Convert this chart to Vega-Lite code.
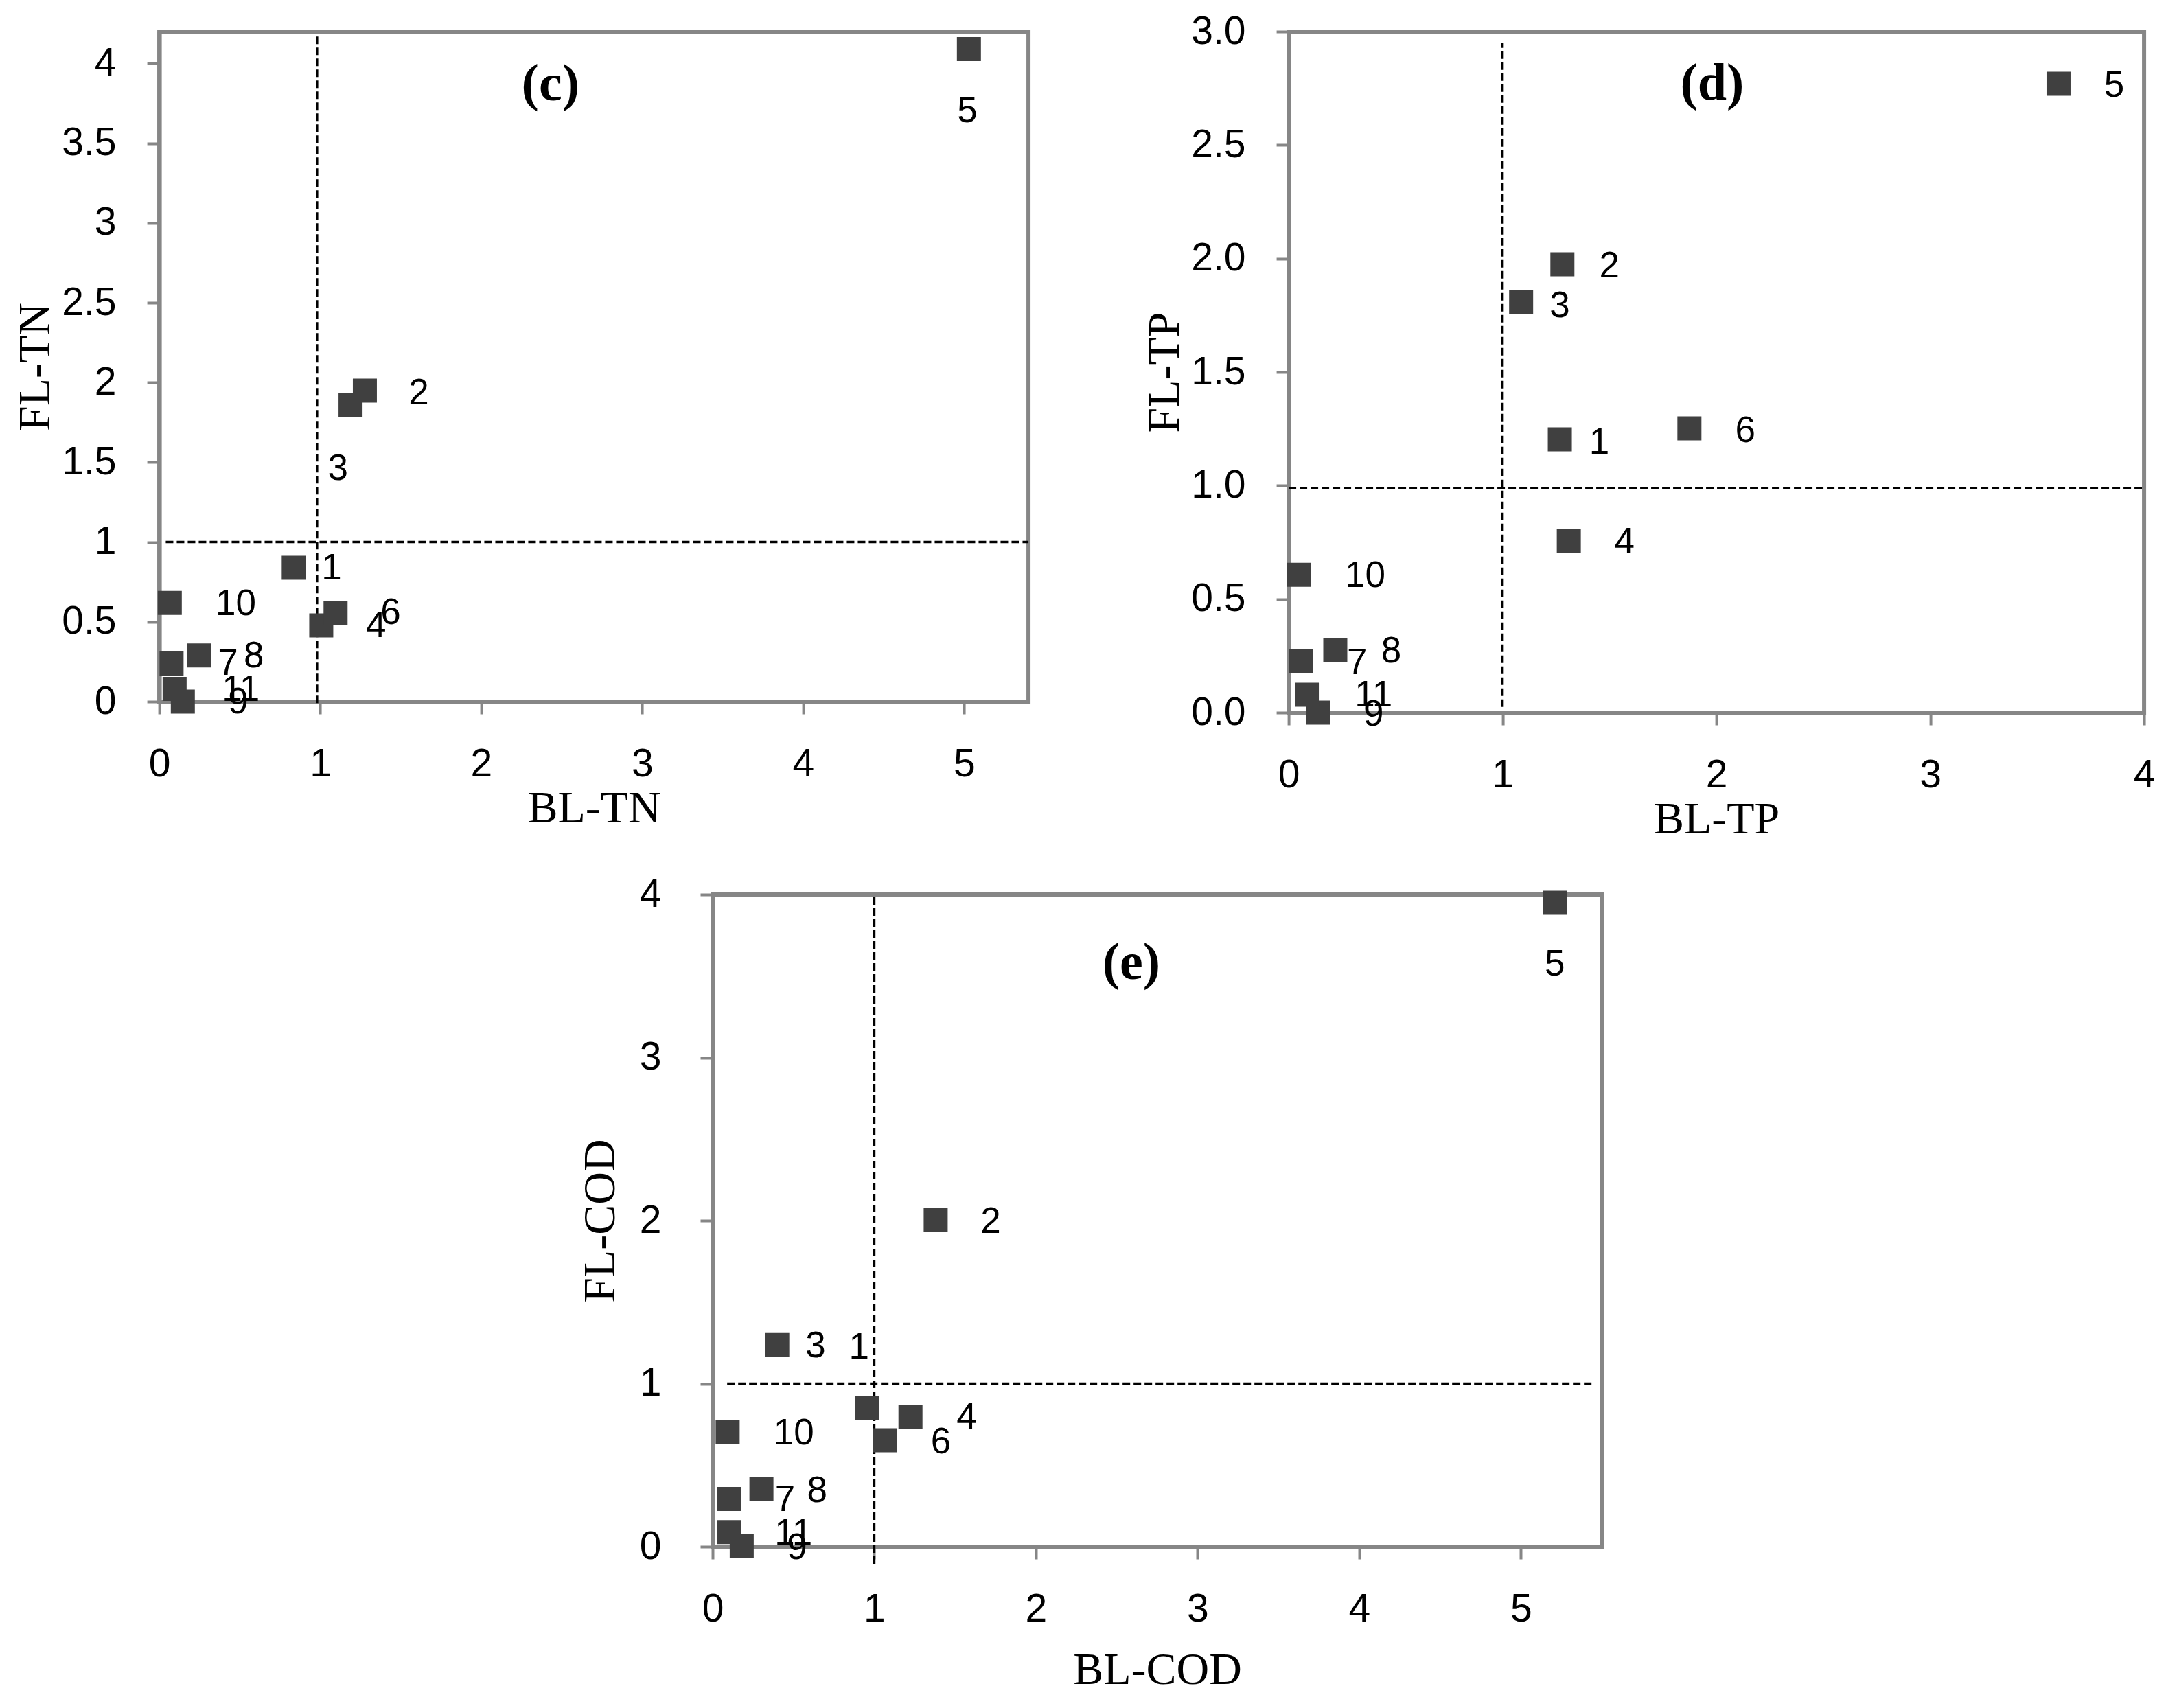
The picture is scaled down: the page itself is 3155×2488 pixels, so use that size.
{
  "$schema": "https://vega.github.io/schema/vega-lite/v6.json",
  "padding": {"left": 15, "top": 14, "right": 5, "bottom": 5},
  "background": "white",
  "datasets": {
    "c": [
      {"id": "1", "x": 0.835, "y": 0.839, "lx": 1.07, "ly": 0.836},
      {"id": "2", "x": 1.277, "y": 1.949, "lx": 1.612, "ly": 1.932},
      {"id": "3", "x": 1.188, "y": 1.858, "lx": 1.11, "ly": 1.46},
      {"id": "4", "x": 1.006, "y": 0.478, "lx": 1.346, "ly": 0.474},
      {"id": "5", "x": 5.03, "y": 4.09, "lx": 5.02, "ly": 3.70},
      {"id": "6", "x": 1.095, "y": 0.557, "lx": 1.437, "ly": 0.553},
      {"id": "7", "x": 0.076, "y": 0.239, "lx": 0.426, "ly": 0.236},
      {"id": "8", "x": 0.247, "y": 0.289, "lx": 0.587, "ly": 0.283},
      {"id": "9", "x": 0.146, "y": 0.0, "lx": 0.49, "ly": -0.004},
      {"id": "10", "x": 0.065, "y": 0.619, "lx": 0.475, "ly": 0.61},
      {"id": "11", "x": 0.095, "y": 0.08, "lx": 0.506, "ly": 0.072}
    ],
    "d": [
      {"id": "1", "x": 1.268, "y": 1.204, "lx": 1.452, "ly": 1.19},
      {"id": "2", "x": 1.28, "y": 1.975, "lx": 1.5, "ly": 1.965},
      {"id": "3", "x": 1.087, "y": 1.807, "lx": 1.268, "ly": 1.79},
      {"id": "4", "x": 1.31, "y": 0.757, "lx": 1.57, "ly": 0.75},
      {"id": "5", "x": 3.6, "y": 2.77, "lx": 3.86, "ly": 2.76},
      {"id": "6", "x": 1.874, "y": 1.252, "lx": 2.135, "ly": 1.24},
      {"id": "7", "x": 0.058, "y": 0.228, "lx": 0.32, "ly": 0.219},
      {"id": "8", "x": 0.218, "y": 0.277, "lx": 0.48, "ly": 0.27},
      {"id": "9", "x": 0.138, "y": 0.0, "lx": 0.397, "ly": -0.01},
      {"id": "10", "x": 0.048, "y": 0.607, "lx": 0.358, "ly": 0.603},
      {"id": "11", "x": 0.085, "y": 0.079, "lx": 0.397, "ly": 0.075}
    ],
    "e": [
      {"id": "1", "x": 0.954, "y": 0.848, "lx": 0.906, "ly": 1.221},
      {"id": "2", "x": 1.38, "y": 2.003, "lx": 1.72, "ly": 1.99},
      {"id": "3", "x": 0.4, "y": 1.237, "lx": 0.637, "ly": 1.23},
      {"id": "4", "x": 1.224, "y": 0.795, "lx": 1.571, "ly": 0.79},
      {"id": "5", "x": 5.21, "y": 3.95, "lx": 5.21, "ly": 3.57},
      {"id": "6", "x": 1.068, "y": 0.653, "lx": 1.412, "ly": 0.64},
      {"id": "7", "x": 0.1, "y": 0.293, "lx": 0.448, "ly": 0.286},
      {"id": "8", "x": 0.302, "y": 0.352, "lx": 0.647, "ly": 0.342},
      {"id": "9", "x": 0.18, "y": 0.004, "lx": 0.522, "ly": -0.01},
      {"id": "10", "x": 0.093, "y": 0.703, "lx": 0.502, "ly": 0.696},
      {"id": "11", "x": 0.1, "y": 0.09, "lx": 0.5, "ly": 0.082}
    ]
  },
  "center": true,
  "spacing": 42,
  "vconcat": [
    {
      "bounds": "flush",
      "spacing": 379,
      "hconcat": [
        {
          "width": 1266,
          "height": 976,
          "layer": [
            {
              "data": {"values": [{}]},
              "mark": {"type": "rule", "strokeDash": [11, 5], "strokeWidth": 3.5, "color": "black"},
              "encoding": {
                "x": {"datum": 0.98, "type": "quantitative", "scale": {"domain": [0, 5.4], "nice": false}, "title": "BL-TN"},
                "y": {"datum": -0.01, "type": "quantitative", "scale": {"domain": [0, 4.2], "nice": false}, "title": "FL-TN"},
                "y2": {"datum": 4.17}
              }
            },
            {
              "data": {"values": [{}]},
              "mark": {"type": "rule", "strokeDash": [11, 5], "strokeWidth": 3.5, "color": "black"},
              "encoding": {
                "x": {"datum": 0.04, "type": "quantitative", "title": "BL-TN"},
                "x2": {"datum": 5.4},
                "y": {"datum": 1, "type": "quantitative", "title": "FL-TN"}
              }
            },
            {
              "data": {"name": "c"},
              "mark": {"type": "point", "shape": "square", "filled": true, "size": 1225, "color": "#404040", "opacity": 1},
              "encoding": {
                "x": {"field": "x", "type": "quantitative", "scale": {"domain": [0, 5.4], "nice": false}, "title": "BL-TN", "axis": {"values": [0, 1, 2, 3, 4, 5], "format": "d"}},
                "y": {"field": "y", "type": "quantitative", "scale": {"domain": [0, 4.2], "nice": false}, "title": "FL-TN", "axis": {"values": [0, 0.5, 1, 1.5, 2, 2.5, 3, 3.5, 4], "format": ".1~f"}}
              }
            },
            {
              "data": {"name": "c"},
              "mark": {"type": "text", "font": "Liberation Sans", "fontSize": 53, "align": "center", "baseline": "middle", "color": "black"},
              "encoding": {
                "x": {"field": "lx", "type": "quantitative", "title": "BL-TN"},
                "y": {"field": "ly", "type": "quantitative", "title": "FL-TN"},
                "text": {"field": "id"}
              }
            },
            {
              "data": {"values": [{}]},
              "mark": {"type": "text", "font": "Liberation Serif", "fontSize": 76, "fontWeight": "bold", "align": "center", "baseline": "middle", "color": "black"},
              "encoding": {
                "x": {"datum": 2.43, "type": "quantitative", "title": "BL-TN"},
                "y": {"datum": 3.87, "type": "quantitative", "title": "FL-TN"},
                "text": {"value": "(c)"}
              }
            }
          ]
        },
        {
          "width": 1246,
          "height": 992,
          "layer": [
            {
              "data": {"values": [{}]},
              "mark": {"type": "rule", "strokeDash": [11, 5], "strokeWidth": 3.5, "color": "black"},
              "encoding": {
                "x": {"datum": 1.0, "type": "quantitative", "scale": {"domain": [0, 4], "nice": false}, "title": "BL-TP"},
                "y": {"datum": 0.025, "type": "quantitative", "scale": {"domain": [0, 3], "nice": false}, "title": "FL-TP"},
                "y2": {"datum": 2.95}
              }
            },
            {
              "data": {"values": [{}]},
              "mark": {"type": "rule", "strokeDash": [11, 5], "strokeWidth": 3.5, "color": "black"},
              "encoding": {
                "x": {"datum": 0.0, "type": "quantitative", "title": "BL-TP"},
                "x2": {"datum": 4.0},
                "y": {"datum": 0.99, "type": "quantitative", "title": "FL-TP"}
              }
            },
            {
              "data": {"name": "d"},
              "mark": {"type": "point", "shape": "square", "filled": true, "size": 1225, "color": "#404040", "opacity": 1},
              "encoding": {
                "x": {"field": "x", "type": "quantitative", "scale": {"domain": [0, 4], "nice": false}, "title": "BL-TP", "axis": {"values": [0, 1, 2, 3, 4], "format": "d"}},
                "y": {"field": "y", "type": "quantitative", "scale": {"domain": [0, 3], "nice": false}, "title": "FL-TP", "axis": {"values": [0, 0.5, 1, 1.5, 2, 2.5, 3], "format": ".1f"}}
              }
            },
            {
              "data": {"name": "d"},
              "mark": {"type": "text", "font": "Liberation Sans", "fontSize": 53, "align": "center", "baseline": "middle", "color": "black"},
              "encoding": {
                "x": {"field": "lx", "type": "quantitative", "title": "BL-TP"},
                "y": {"field": "ly", "type": "quantitative", "title": "FL-TP"},
                "text": {"field": "id"}
              }
            },
            {
              "data": {"values": [{}]},
              "mark": {"type": "text", "font": "Liberation Serif", "fontSize": 76, "fontWeight": "bold", "align": "center", "baseline": "middle", "color": "black"},
              "encoding": {
                "x": {"datum": 1.98, "type": "quantitative", "title": "BL-TP"},
                "y": {"datum": 2.77, "type": "quantitative", "title": "FL-TP"},
                "text": {"value": "(d)"}
              }
            }
          ]
        }
      ]
    },
    {
      "width": 1295,
      "height": 950,
      "layer": [
        {
          "data": {"values": [{}]},
          "mark": {"type": "rule", "strokeDash": [11, 5], "strokeWidth": 3.5, "color": "black"},
          "encoding": {
            "x": {"datum": 1.0, "type": "quantitative", "scale": {"domain": [0, 5.5], "nice": false}, "title": "BL-COD"},
            "y": {"datum": -0.105, "type": "quantitative", "scale": {"domain": [0, 4], "nice": false}, "title": "FL-COD"},
            "y2": {"datum": 4.0}
          }
        },
        {
          "data": {"values": [{}]},
          "mark": {"type": "rule", "strokeDash": [11, 5], "strokeWidth": 3.5, "color": "black"},
          "encoding": {
            "x": {"datum": 0.09, "type": "quantitative", "title": "BL-COD"},
            "x2": {"datum": 5.44},
            "y": {"datum": 1.0, "type": "quantitative", "title": "FL-COD"}
          }
        },
        {
          "data": {"name": "e"},
          "mark": {"type": "point", "shape": "square", "filled": true, "size": 1225, "color": "#404040", "opacity": 1},
          "encoding": {
            "x": {"field": "x", "type": "quantitative", "scale": {"domain": [0, 5.5], "nice": false}, "title": "BL-COD", "axis": {"values": [0, 1, 2, 3, 4, 5], "format": "d", "titlePadding": 28}},
            "y": {"field": "y", "type": "quantitative", "scale": {"domain": [0, 4], "nice": false}, "title": "FL-COD", "axis": {"values": [0, 1, 2, 3, 4], "format": "d", "labelPadding": 57, "titlePadding": 23}}
          }
        },
        {
          "data": {"name": "e"},
          "mark": {"type": "text", "font": "Liberation Sans", "fontSize": 53, "align": "center", "baseline": "middle", "color": "black"},
          "encoding": {
            "x": {"field": "lx", "type": "quantitative", "title": "BL-COD"},
            "y": {"field": "ly", "type": "quantitative", "title": "FL-COD"},
            "text": {"field": "id"}
          }
        },
        {
          "data": {"values": [{}]},
          "mark": {"type": "text", "font": "Liberation Serif", "fontSize": 76, "fontWeight": "bold", "align": "center", "baseline": "middle", "color": "black"},
          "encoding": {
            "x": {"datum": 2.59, "type": "quantitative", "title": "BL-COD"},
            "y": {"datum": 3.58, "type": "quantitative", "title": "FL-COD"},
            "text": {"value": "(e)"}
          }
        }
      ]
    }
  ],
  "config": {
    "view": {"stroke": "#868686", "strokeWidth": 6},
    "axis": {
      "grid": false,
      "domainColor": "#868686",
      "domainWidth": 6,
      "tickColor": "#868686",
      "tickWidth": 4,
      "tickSize": 18,
      "labelFont": "Liberation Sans",
      "labelFontSize": 57,
      "labelColor": "black",
      "labelPadding": 45,
      "labelFlush": false,
      "labelOverlap": false,
      "labelBound": false,
      "titleFont": "Liberation Serif",
      "titleFontSize": 66,
      "titleFontWeight": "normal",
      "titleColor": "black",
      "titlePadding": 4
    }
  }
}
